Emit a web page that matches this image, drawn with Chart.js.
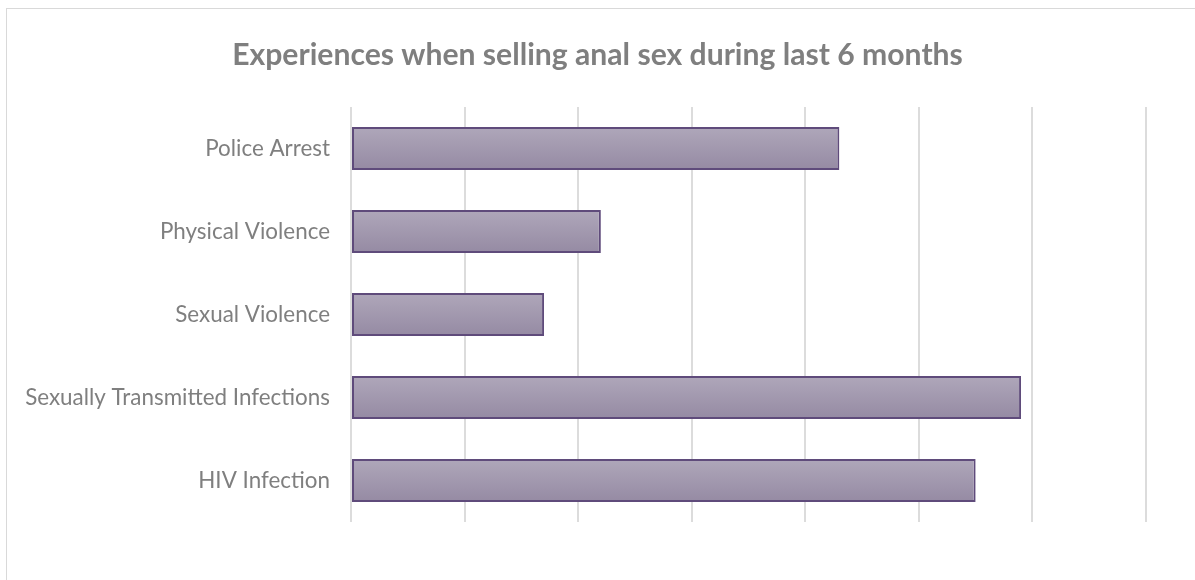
<!DOCTYPE html>
<html>
<head>
<meta charset="utf-8">
<script src="https://cdn.jsdelivr.net/npm/chart.js@4.4.1/dist/chart.umd.min.js"></script>
<style>
  html, body { margin: 0; padding: 0; background: #ffffff; overflow: hidden; }
  #wrap { position: relative; width: 1195px; height: 580px; }
  #frame { position: absolute; left: 6px; top: 8px; width: 1400px; height: 800px;
           border: 1.5px solid #d9d9d9; box-sizing: border-box; }
  #chart { position: absolute; left: 0; top: 0; }
</style>
</head>
<body>
<div id="wrap">
  <div id="frame"></div>
  <canvas id="chart" width="1195" height="580"></canvas>
</div>
<script>
// Chart content
const titleText = 'Experiences when selling anal sex during last 6 months';
const categories = ['Police Arrest', 'Physical Violence', 'Sexual Violence',
                    'Sexually Transmitted Infections', 'HIV Infection'];
const percentages = [43, 22, 17, 59, 55];
const axisMin = 0;
const axisMax = 70;
const axisStep = 10;

// Pick a font size so a string reaches a given width in the chosen face
function fitSize(text, weight, family, targetWidth) {
  const c = document.createElement('canvas').getContext('2d');
  c.font = weight + ' 100px ' + family;
  return 100 * targetWidth / c.measureText(text).width;
}

const labelFamily = 'Lato, "Open Sans", sans-serif';
const titleSize = fitSize(titleText, 'bold', labelFamily, 731);
const labelSize = fitSize('Sexually Transmitted Infections', 'normal', labelFamily, 305);

const barPct = 0.52;

// Vertical gradient for each bar, lighter at the top
function barFill(ctx) {
  const chart = ctx.chart;
  const y = chart.scales.y;
  if (!chart.chartArea || !y) return '#a49bb0';
  const center = y.getPixelForValue(ctx.dataIndex);
  const half = (y.bottom - y.top) / categories.length * barPct / 2;
  const g = chart.ctx.createLinearGradient(0, center - half, 0, center + half);
  g.addColorStop(0, '#afa7ba');
  g.addColorStop(1, '#958aa3');
  return g;
}

new Chart(document.getElementById('chart'), {
  type: 'bar',
  data: {
    labels: categories,
    datasets: [{
      data: percentages,
      backgroundColor: barFill,
      borderColor: '#5f4b7b',
      borderWidth: 2,
      borderSkipped: false,
      categoryPercentage: 1,
      barPercentage: barPct
    }]
  },
  options: {
    indexAxis: 'y',
    responsive: false,
    animation: false,
    layout: { padding: { left: 0, right: 0, top: 0, bottom: 58 } },
    plugins: {
      legend: { display: false },
      tooltip: { enabled: false },
      title: {
        display: true,
        text: titleText,
        color: '#7f7f7f',
        font: { family: labelFamily, size: titleSize, weight: 'bold', lineHeight: 1.2 },
        padding: { top: 55 - titleSize * 0.6, bottom: 107 - (55 - titleSize * 0.6) - titleSize * 1.2 }
      }
    },
    scales: {
      x: {
        min: axisMin,
        max: axisMax,
        ticks: { display: false, stepSize: axisStep },
        border: { display: false },
        grid: { color: '#dcdcdc', lineWidth: 2, drawTicks: false }
      },
      y: {
        afterFit: (scale) => { scale.width = 351; },
        ticks: {
          color: '#7f7f7f',
          padding: 21,
          font: { family: labelFamily, size: labelSize }
        },
        border: { display: false },
        grid: { display: false, drawTicks: false }
      },
      // empty margin on the right side of the plot
      rightGap: {
        type: 'linear',
        position: 'right',
        afterFit: (scale) => { scale.width = 49; },
        ticks: { display: false },
        border: { display: false },
        grid: { display: false, drawTicks: false }
      }
    }
  }
});
</script>
</body>
</html>
